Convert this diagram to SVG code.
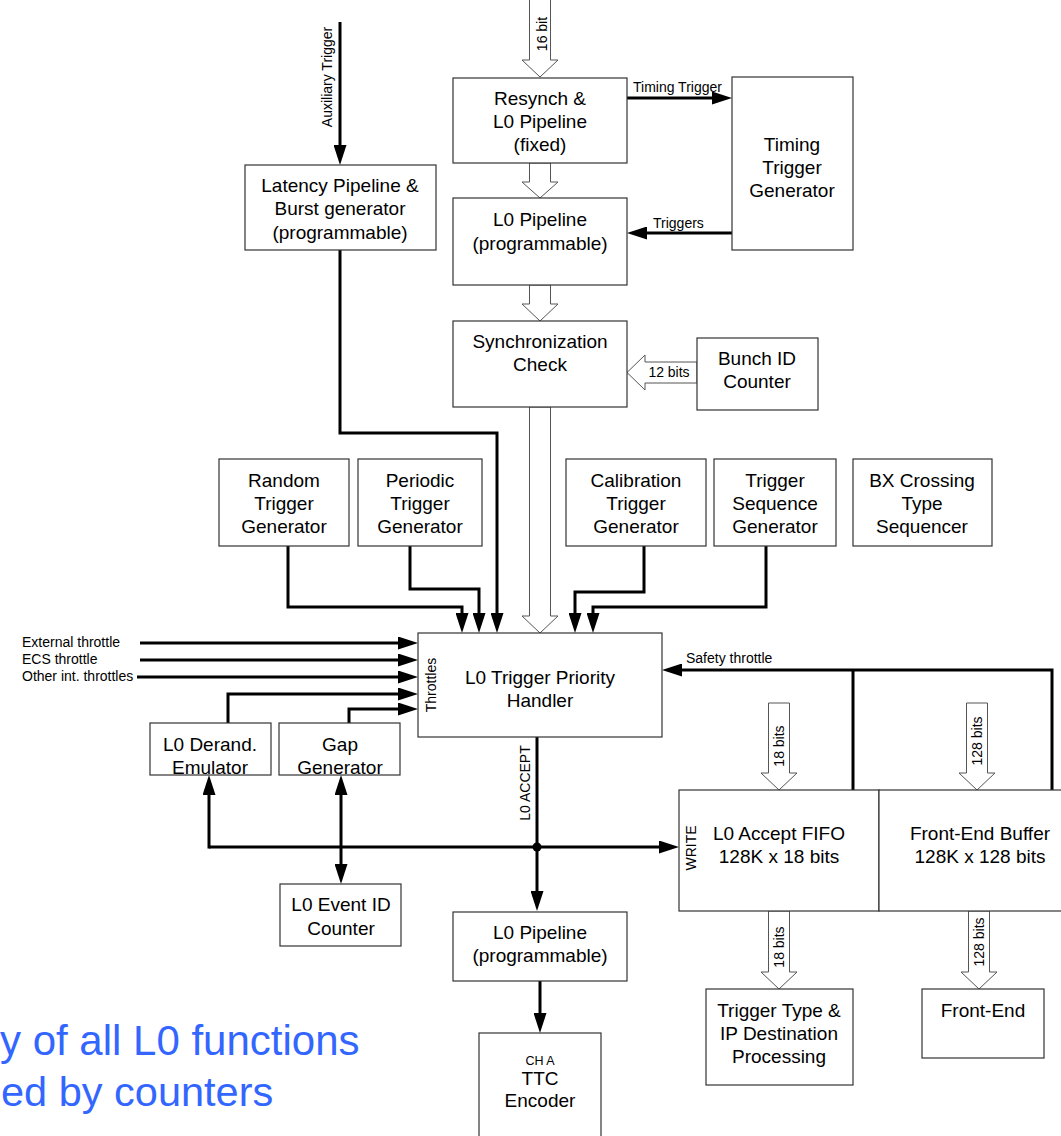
<svg xmlns="http://www.w3.org/2000/svg" width="1061" height="1136" viewBox="0 0 1061 1136">
<style>
.box{fill:#fff;stroke:#333;stroke-width:1.2}
.t{font-family:"Liberation Sans",Arial,sans-serif;font-size:19px;fill:#000;text-anchor:middle}
.s{font-family:"Liberation Sans",Arial,sans-serif;font-size:14px;fill:#000}
.c{fill:none;stroke:#000;stroke-width:3}
.a{marker-end:url(#ah)}
.h{fill:#fff;stroke:#555;stroke-width:1}
.blue{font-family:"Liberation Sans",Arial,sans-serif;font-size:42px;fill:#3366ff;text-anchor:start}
</style>
<defs>
<marker id="ah" markerUnits="userSpaceOnUse" markerWidth="20" markerHeight="13" refX="2" refY="6.5" orient="auto">
<path d="M0,0 L20,6.5 L0,13 z" fill="#000"/>
</marker>
</defs>
<rect width="1061" height="1136" fill="#fff"/>

<!-- hollow bus arrows -->
<g id="buses">
<polygon class="h" points="529.5,-5 550.5,-5 550.5,60 558,60 540,77 522,60 529.5,60"/>
<text class="s" transform="translate(547,34) rotate(-90)" text-anchor="middle">16 bit</text>
<polygon class="h" points="529.5,163 550.5,163 550.5,182 558,182 540,198 522,182 529.5,182"/>
<polygon class="h" points="529.5,285 550.5,285 550.5,304 558,304 540,321 522,304 529.5,304"/>
<polygon class="h" points="529.5,407 550.5,407 550.5,616 558,616 540,633 522,616 529.5,616"/>
<polygon class="h" points="697,362 697,383 645,383 645,390 627,372.5 645,355 645,362"/>
<text class="s" x="669" y="377" text-anchor="middle">12 bits</text>
<polygon class="h" points="768.5,703 789.5,703 789.5,773 797,773 779,790 761,773 768.5,773"/>
<text class="s" transform="translate(784,746) rotate(-90)" text-anchor="middle">18 bits</text>
<polygon class="h" points="966.5,703 987.5,703 987.5,773 995,773 977,790 959,773 966.5,773"/>
<text class="s" transform="translate(982,741) rotate(-90)" text-anchor="middle">128 bits</text>
<polygon class="h" points="768.5,911 789.5,911 789.5,972 797,972 779,989 761,972 768.5,972"/>
<text class="s" transform="translate(784,947) rotate(-90)" text-anchor="middle">18 bits</text>
<polygon class="h" points="968.5,911 989.5,911 989.5,972 997,972 979,989 961,972 968.5,972"/>
<text class="s" transform="translate(984,942) rotate(-90)" text-anchor="middle">128 bits</text>
</g>

<!-- connectors -->
<g id="connectors">
<path class="c a" d="M340 22 V147"/>
<text class="s" transform="translate(332,77) rotate(-90)" text-anchor="middle">Auxiliary Trigger</text>
<path class="c a" d="M340 250 V433 H497 V615"/>
<path class="c a" d="M288 546 V607 H462 V615"/>
<path class="c a" d="M410 546 V589 H479 V615"/>
<path class="c a" d="M644 546 V592 H575 V615"/>
<path class="c a" d="M766 546 V607 H593 V615"/>
<path class="c a" d="M627 98 H714"/>
<text class="s" x="633" y="92">Timing Trigger</text>
<path class="c a" d="M732 233 H645"/>
<text class="s" x="653" y="228">Triggers</text>
<path class="c a" d="M140 643 H400"/>
<text class="s" x="22" y="647">External throttle</text>
<path class="c a" d="M140 660 H400"/>
<text class="s" x="22" y="664">ECS throttle</text>
<path class="c a" d="M137 677 H400"/>
<text class="s" x="22" y="681">Other int. throttles</text>
<path class="c a" d="M228 723 V694 H400"/>
<path class="c a" d="M349 723 V709 H400"/>
<path class="c a" d="M1052 790 V670 H680"/>
<path class="c" d="M853 790 V670"/>
<text class="s" x="686" y="663">Safety throttle</text>
<path class="c a" d="M537 737 V893"/>
<text class="s" transform="translate(530,783) rotate(-90)" text-anchor="middle">L0 ACCEPT</text>
<path class="c a" d="M209 847 H661"/>
<path class="c a" d="M209 848.5 V793"/>
<path class="c a" d="M341 847 V793"/>
<path class="c a" d="M341 847 V866"/>
<circle cx="537" cy="847" r="4.5" fill="#000"/>
<path class="c a" d="M540 981 V1015"/>
</g>

<g id="latency"><rect class="box" x="245" y="165" width="191" height="85"/>
<text class="t" x="340" y="192">Latency Pipeline &amp;</text><text class="t" x="340" y="215">Burst generator</text><text class="t" x="340" y="239">(programmable)</text></g>

<g id="resynch"><rect class="box" x="453" y="78" width="174" height="85"/>
<text class="t" x="540" y="105">Resynch &amp;</text><text class="t" x="540" y="128">L0 Pipeline</text><text class="t" x="540" y="151">(fixed)</text></g>

<g id="timing"><rect class="box" x="732" y="77" width="121" height="173"/>
<text class="t" x="792" y="151">Timing</text><text class="t" x="792" y="174">Trigger</text><text class="t" x="792" y="197">Generator</text></g>

<g id="l0pipe1"><rect class="box" x="453" y="198" width="174" height="87"/>
<text class="t" x="540" y="226">L0 Pipeline</text><text class="t" x="540" y="250">(programmable)</text></g>

<g id="sync"><rect class="box" x="453" y="321" width="174" height="86"/>
<text class="t" x="540" y="348">Synchronization</text><text class="t" x="540" y="371">Check</text></g>

<g id="bunch"><rect class="box" x="697" y="338" width="121" height="72"/>
<text class="t" x="757" y="365">Bunch ID</text><text class="t" x="757" y="388">Counter</text></g>

<g id="random"><rect class="box" x="219" y="459" width="130" height="87"/>
<text class="t" x="284" y="487">Random</text><text class="t" x="284" y="510">Trigger</text><text class="t" x="284" y="533">Generator</text></g>

<g id="periodic"><rect class="box" x="358" y="459" width="124" height="87"/>
<text class="t" x="420" y="487">Periodic</text><text class="t" x="420" y="510">Trigger</text><text class="t" x="420" y="533">Generator</text></g>

<g id="calib"><rect class="box" x="566" y="459" width="140" height="87"/>
<text class="t" x="636" y="487">Calibration</text><text class="t" x="636" y="510">Trigger</text><text class="t" x="636" y="533">Generator</text></g>

<g id="trigseq"><rect class="box" x="714" y="459" width="122" height="87"/>
<text class="t" x="775" y="487">Trigger</text><text class="t" x="775" y="510">Sequence</text><text class="t" x="775" y="533">Generator</text></g>

<g id="bx"><rect class="box" x="853" y="459" width="139" height="87"/>
<text class="t" x="922" y="487">BX Crossing</text><text class="t" x="922" y="510">Type</text><text class="t" x="922" y="533">Sequencer</text></g>

<g id="priority"><rect class="box" x="418" y="633" width="244" height="104"/>
<text class="t" x="540" y="684">L0 Trigger Priority</text><text class="t" x="540" y="707">Handler</text>
<text class="s" transform="translate(436,685) rotate(-90)" text-anchor="middle">Throttles</text></g>

<g id="derand"><rect class="box" x="150" y="723" width="121" height="52"/>
<text class="t" x="210" y="751">L0 Derand.</text><text class="t" x="210" y="774">Emulator</text></g>

<g id="gap"><rect class="box" x="279" y="723" width="121" height="52"/>
<text class="t" x="340" y="751">Gap</text><text class="t" x="340" y="774">Generator</text></g>

<g id="fifo"><rect class="box" x="679" y="790" width="200" height="121"/>
<text class="t" x="779" y="840">L0 Accept FIFO</text><text class="t" x="779" y="863">128K x 18 bits</text>
<text class="s" transform="translate(696,848) rotate(-90)" text-anchor="middle">WRITE</text></g>

<g id="feb"><rect class="box" x="879" y="790" width="190" height="121"/>
<text class="t" x="980" y="840">Front-End Buffer</text><text class="t" x="980" y="863">128K x 128 bits</text></g>

<g id="eventid"><rect class="box" x="280" y="884" width="121" height="62"/>
<text class="t" x="341" y="911">L0 Event ID</text><text class="t" x="341" y="935">Counter</text></g>

<g id="l0pipe2"><rect class="box" x="453" y="912" width="174" height="69"/>
<text class="t" x="540" y="939">L0 Pipeline</text><text class="t" x="540" y="962">(programmable)</text></g>

<g id="trigtype"><rect class="box" x="706" y="989" width="147" height="96"/>
<text class="t" x="779" y="1017">Trigger Type &amp;</text><text class="t" x="779" y="1040">IP Destination</text><text class="t" x="779" y="1063">Processing</text></g>

<g id="frontend"><rect class="box" x="922" y="989" width="122" height="69"/>
<text class="t" x="983" y="1017">Front-End</text></g>

<g id="ttc"><rect class="box" x="479" y="1033" width="122" height="110"/>
<text class="s" x="540" y="1065" text-anchor="middle" style="font-size:12.5px">CH A</text>
<text class="t" x="540" y="1085">TTC</text><text class="t" x="540" y="1107">Encoder</text></g>

<g id="caption">
<text class="blue" x="0" y="1055">y of all L0 functions</text>
<text class="blue" x="1" y="1106" style="font-size:41.5px">ed by counters</text>
</g>
</svg>
